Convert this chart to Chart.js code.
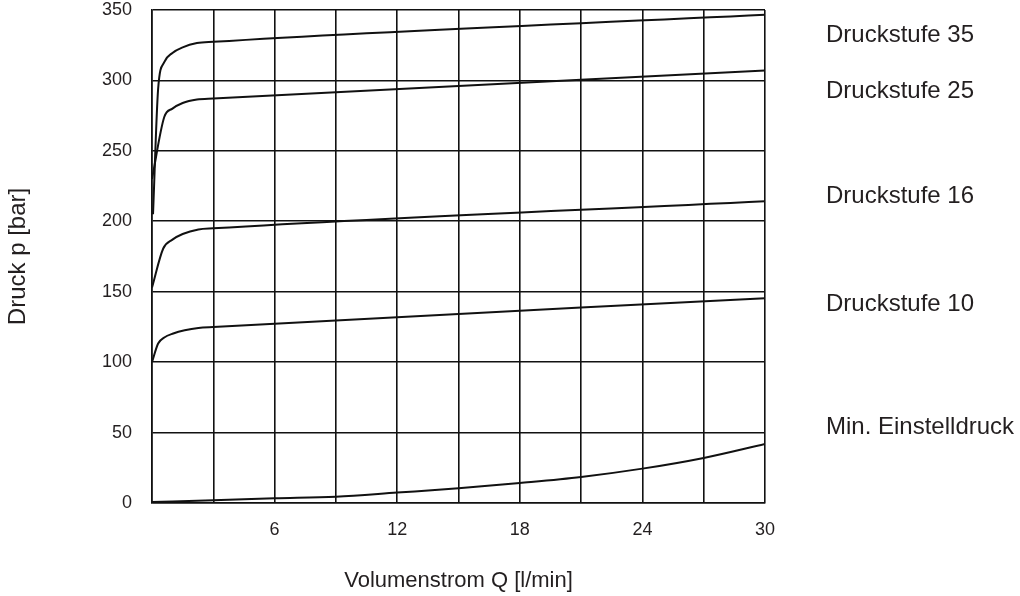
<!DOCTYPE html>
<html lang="de">
<head>
    <meta charset="UTF-8">
    <title>Druck / Volumenstrom</title>
    <script src="https://cdn.jsdelivr.net/npm/chart.js"></script>
    <style>
        body {
            margin: 0;
            background: #FFFFFF;
        }
        #wrap {
            width: 1020px;
            height: 596px;
        }
    </style>
</head>
<body>
    <div id="wrap">
        <canvas id="chart" width="1020" height="596"></canvas>
    </div>
    <script>
        // Kennlinien (Q in l/min, p in bar)
        const seriesNames = ["Druckstufe 35", "Druckstufe 25", "Druckstufe 16", "Druckstufe 10", "Min. Einstelldruck"];

        const q35 = [0.05, 0.3, 0.6, 1.0, 1.5, 2.2, 3, 30];
        const p35 = [205, 294, 313, 319.5, 323.5, 326.5, 327.4, 346.6];

        const q25 = [0, 0.6, 1.0, 1.5, 2.2, 3, 30];
        const p25 = [230, 274, 280, 284, 286.5, 287.2, 307];

        const q16 = [0, 0.55, 1.0, 1.5, 2.27, 3, 30];
        const p16 = [153, 180.7, 187, 191, 194.2, 195, 214.3];

        const q10 = [0, 0.3, 0.6, 1.04, 1.6, 2.27, 3, 30];
        const p10 = [100, 113.2, 117.5, 120.3, 122.6, 124.3, 125, 145.4];

        const qMin = [0, 3, 6, 9, 12, 15, 18, 21, 24, 27, 30];
        const pMin = [0.7, 1.9, 3.3, 4.5, 7.4, 10.4, 14.2, 18.5, 24.4, 32, 41.9];

        // Achsen
        const xTicks = [6, 12, 18, 24, 30];
        const yTicks = [0, 50, 100, 150, 200, 250, 300, 350];

        const curves = [[q35, p35], [q25, p25], [q16, p16], [q10, p10], [qMin, pMin]];

        function toPoints(qs, ps) {
            return qs.map((q, i) => ({ x: q, y: ps[i] }));
        }

        const textColor = "#231F20";
        const fontFamily = "'Liberation Sans', Arial, sans-serif";

        // Beschriftung rechts neben dem Diagramm
        const sideLabels = {
            id: "sideLabels",
            afterDraw(chart, args, opts) {
                const ctx = chart.ctx;
                const y = chart.scales.y;
                ctx.save();
                ctx.fillStyle = textColor;
                ctx.font = "24px " + fontFamily;
                ctx.textBaseline = "middle";
                ctx.textAlign = "left";
                seriesNames.forEach((name, i) => {
                    ctx.fillText(name, opts.x, y.getPixelForValue(opts.at[i]));
                });
                ctx.restore();
            }
        };

        const ctx = document.getElementById("chart").getContext("2d");
        const chart = new Chart(ctx, {
            type: "scatter",
            data: {
                datasets: curves.map((c, i) => ({
                    label: seriesNames[i],
                    data: toPoints(c[0], c[1]),
                    showLine: true,
                    borderColor: "#111111",
                    borderWidth: 2,
                    pointRadius: 0,
                    fill: false,
                    cubicInterpolationMode: "monotone"
                }))
            },
            options: {
                responsive: false,
                animation: false,
                layout: {
                    padding: { left: 0, top: 10, right: 255, bottom: 0 }
                },
                scales: {
                    x: {
                        type: "linear",
                        min: 0,
                        max: 30,
                        afterFit(scale) {
                            scale.height = 93;
                            scale.paddingLeft = 0;
                            scale.paddingRight = 0;
                        },
                        afterBuildTicks(scale) {
                            const t = [];
                            for (let v = 0; v <= 30; v += 3) t.push({ value: v });
                            scale.ticks = t;
                        },
                        ticks: {
                            autoSkip: false,
                            maxRotation: 0,
                            padding: 16,
                            color: textColor,
                            font: { family: fontFamily, size: 18 },
                            callback: v => xTicks.includes(v) ? String(v) : ""
                        },
                        grid: { color: "#111111", lineWidth: 1.6, drawTicks: false },
                        border: { color: "#111111", width: 1.6 },
                        title: {
                            display: true,
                            text: "Volumenstrom Q [l/min]",
                            color: textColor,
                            font: { family: fontFamily, size: 22 },
                            padding: { top: 0, bottom: 2 }
                        }
                    },
                    y: {
                        type: "linear",
                        min: 0,
                        max: 350,
                        afterFit(scale) {
                            scale.width = 152;
                            scale.paddingTop = 0;
                            scale.paddingBottom = 0;
                        },
                        afterBuildTicks(scale) {
                            scale.ticks = yTicks.map(v => ({ value: v }));
                        },
                        ticks: {
                            padding: 20,
                            color: textColor,
                            font: { family: fontFamily, size: 18 }
                        },
                        grid: { color: "#111111", lineWidth: 1.6, drawTicks: false },
                        border: { color: "#111111", width: 1.6 },
                        title: {
                            display: true,
                            text: "Druck p [bar]",
                            color: textColor,
                            font: { family: fontFamily, size: 24 },
                            padding: { top: 4, bottom: 0 }
                        }
                    }
                },
                plugins: {
                    legend: { display: false },
                    tooltip: { enabled: false },
                    sideLabels: { x: 826, at: [332, 292, 218, 141, 54] }
                }
            },
            plugins: [sideLabels]
        });
    </script>
</body>
</html>
